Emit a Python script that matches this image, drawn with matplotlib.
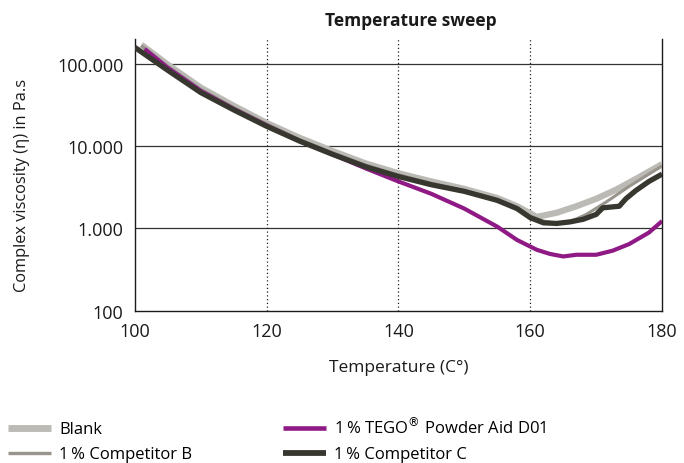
import numpy as np
import matplotlib.pyplot as plt
from matplotlib.ticker import FixedLocator, NullLocator

plt.rcParams['font.family'] = ['Open Sans', 'DejaVu Sans']

# Blank
t_blank = [101, 105, 110, 115, 120, 125, 130, 135, 140, 145, 150, 155, 158, 161, 164, 167, 170, 173, 176, 180]
v_blank = [170000, 97700, 51300, 30900, 19100, 12600, 8710, 6170, 4680, 3720, 3020, 2340, 1860, 1380,
           1550, 1860, 2290, 2950, 3980, 6030]

# 1 % Competitor B
t_compb = [101, 105, 110, 115, 120, 125, 130, 135, 140, 145, 150, 155, 158, 160, 162, 164, 166,
           168.5, 171.5, 175, 178, 180]
v_compb = [166000, 93300, 49000, 29500, 18600, 12000, 8320, 5890, 4470, 3550, 2880, 2240, 1780, 1410,
           1230, 1150, 1200, 1480, 2090, 3240, 4570, 5750]

# 1 % TEGO Powder Aid D01
t_tego = [101.5, 105, 110, 115, 120, 125, 130, 135, 140, 145, 150, 155, 158, 161, 163, 165, 167, 170,
          172.5, 175, 178, 180]
v_tego = [151000, 89100, 46800, 28200, 17800, 11500, 7940, 5370, 3720, 2630, 1740, 1050, 724, 550, 490,
          457, 479, 479, 537, 646, 891, 1230]

# 1 % Competitor C
t_compc = [100, 105, 110, 115, 120, 125, 130, 135, 140, 145, 150, 155, 158, 160, 162, 164, 166, 168,
           170, 171, 173.5, 174.5, 176, 178, 180]
v_compc = [158000, 83200, 44700, 27500, 17400, 11500, 7940, 5620, 4270, 3390, 2820, 2190, 1740, 1350,
           1170, 1150, 1200, 1290, 1480, 1780, 1860, 2290, 2880, 3720, 4570]

fig = plt.figure(figsize=(6.84, 4.64), dpi=100)
ax = fig.add_axes([0.197, 0.328, 0.771, 0.586])

ax.plot(t_blank, v_blank, color='#bcbab5', lw=4.5, solid_capstyle='butt', label='Blank', zorder=3)
ax.plot(t_compb, v_compb, color='#99958d', lw=2.2, solid_capstyle='butt',
        label='1\u2009% Competitor B', zorder=4)
ax.plot(t_tego, v_tego, color='#8f1a86', lw=3.0, solid_capstyle='butt',
        label='1\u2009% TEGO$^{®}$ Powder Aid D01', zorder=5)
ax.plot(t_compc, v_compc, color='#38372f', lw=3.8, solid_capstyle='butt',
        label='1\u2009% Competitor C', zorder=6)

ax.set_yscale('log')
ax.set_xlim(100, 180)
ax.set_ylim(100, 200000)
ax.yaxis.set_major_locator(FixedLocator([100, 1000, 10000, 100000]))
ax.yaxis.set_minor_locator(NullLocator())
ax.set_yticklabels(['100', '1.000', '10.000', '100.000'])
ax.set_xticks([100, 120, 140, 160, 180])
ax.tick_params(length=0, labelsize=13, pad=8, colors='#1a1a1a')

for y in [1000, 10000, 100000]:
    ax.axhline(y, color='#333333', lw=0.9, zorder=1)
for x in [120, 140, 160]:
    ax.axvline(x, color='#222222', lw=0.9, ls=(0, (1, 2)), zorder=1)

ax.spines['top'].set_visible(False)
for s in ['left', 'right', 'bottom']:
    ax.spines[s].set_color('#1a1a1a')
    ax.spines[s].set_linewidth(1.0)

ax.set_title('Temperature sweep', fontsize=12.5, fontweight='bold', color='#1a1a1a',
             x=0.523, y=1.0, pad=10)
ax.set_xlabel('Temperature (C°)', fontsize=12.5, labelpad=14, color='#1a1a1a')
ax.set_ylabel('Complex viscosity (η) in Pa.s', fontsize=11.8, color='#1a1a1a')
ax.yaxis.set_label_coords(-0.199, 0.463)

handles, labels = ax.get_legend_handles_labels()
leg = fig.legend(handles, labels, ncol=2, loc='lower left', bbox_to_anchor=(-0.01, -0.031),
                 frameon=False, fontsize=12, handlelength=2.6, handletextpad=0.45,
                 columnspacing=5.45, labelspacing=0.54)
for h in leg.get_lines():
    h.set_linewidth(h.get_linewidth() * 1.1)

fig.savefig('out.png', dpi=100)
